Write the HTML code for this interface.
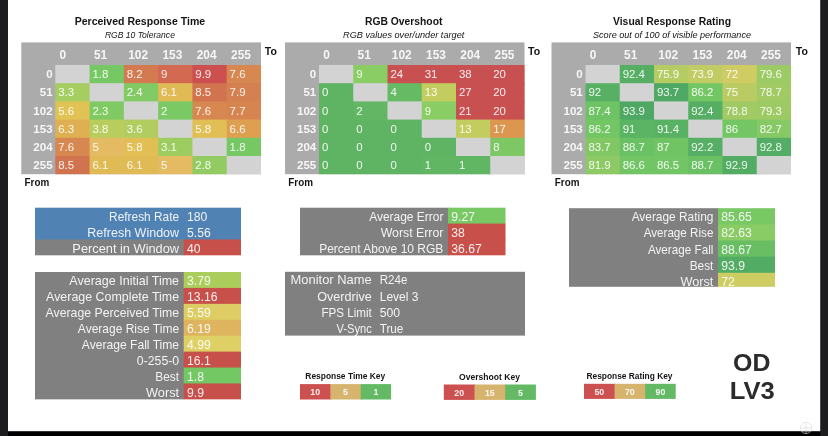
<!DOCTYPE html>
<html><head><meta charset="utf-8"><title>Response Time Results</title>
<style>html,body{margin:0;padding:0;background:#1d1d1f;}body{width:828px;height:436px;overflow:hidden;}svg{display:block;font-family:"Liberation Sans",sans-serif;}text{white-space:pre;}</style></head>
<body>
<svg width="828" height="436" viewBox="0 0 828 436">
<defs><filter id="soft" x="-2%" y="-4%" width="104%" height="108%" color-interpolation-filters="sRGB"><feGaussianBlur stdDeviation="0.45"/></filter></defs>
<g filter="url(#soft)">
<rect x="-10" y="-10" width="848" height="456" fill="#1d1d1f"/>
<rect x="8.00" y="431.00" width="812.20" height="15.00" fill="#000"/>
<rect x="8.00" y="-10.00" width="812.20" height="441.20" fill="#fff"/>
<rect x="21.30" y="42.40" width="239.70" height="131.80" fill="#ababab"/>
<rect x="55.30" y="65.00" width="35.28" height="19.20" fill="#d3d3d3"/>
<rect x="89.58" y="65.00" width="35.28" height="19.20" fill="#76c864"/>
<rect x="123.87" y="65.00" width="35.28" height="19.20" fill="#d47a50"/>
<rect x="158.15" y="65.00" width="35.28" height="19.20" fill="#d26950"/>
<rect x="192.43" y="65.00" width="35.28" height="19.20" fill="#cd5050"/>
<rect x="226.72" y="65.00" width="34.28" height="19.20" fill="#d78750"/>
<rect x="55.30" y="83.20" width="35.28" height="19.20" fill="#a5cd5f"/>
<rect x="89.58" y="83.20" width="35.28" height="19.20" fill="#d3d3d3"/>
<rect x="123.87" y="83.20" width="35.28" height="19.20" fill="#82ca64"/>
<rect x="158.15" y="83.20" width="35.28" height="19.20" fill="#e0ba54"/>
<rect x="192.43" y="83.20" width="35.28" height="19.20" fill="#d27350"/>
<rect x="226.72" y="83.20" width="34.28" height="19.20" fill="#d58050"/>
<rect x="55.30" y="101.40" width="35.28" height="19.20" fill="#e1c355"/>
<rect x="89.58" y="101.40" width="35.28" height="19.20" fill="#80ca64"/>
<rect x="123.87" y="101.40" width="35.28" height="19.20" fill="#d3d3d3"/>
<rect x="158.15" y="101.40" width="35.28" height="19.20" fill="#7ac964"/>
<rect x="192.43" y="101.40" width="35.28" height="19.20" fill="#d78750"/>
<rect x="226.72" y="101.40" width="34.28" height="19.20" fill="#d68550"/>
<rect x="55.30" y="119.60" width="35.28" height="19.20" fill="#dfb052"/>
<rect x="89.58" y="119.60" width="35.28" height="19.20" fill="#b9cd5f"/>
<rect x="123.87" y="119.60" width="35.28" height="19.20" fill="#b1cd5f"/>
<rect x="158.15" y="119.60" width="35.28" height="19.20" fill="#d3d3d3"/>
<rect x="192.43" y="119.60" width="35.28" height="19.20" fill="#e1bf55"/>
<rect x="226.72" y="119.60" width="34.28" height="19.20" fill="#dea050"/>
<rect x="55.30" y="137.80" width="35.28" height="19.20" fill="#d78750"/>
<rect x="89.58" y="137.80" width="35.28" height="19.20" fill="#e4ba62"/>
<rect x="123.87" y="137.80" width="35.28" height="19.20" fill="#e1bf55"/>
<rect x="158.15" y="137.80" width="35.28" height="19.20" fill="#9dcc60"/>
<rect x="192.43" y="137.80" width="35.28" height="19.20" fill="#d3d3d3"/>
<rect x="226.72" y="137.80" width="34.28" height="19.20" fill="#76c864"/>
<rect x="55.30" y="156.00" width="35.28" height="18.20" fill="#d27350"/>
<rect x="89.58" y="156.00" width="35.28" height="18.20" fill="#e0ba54"/>
<rect x="123.87" y="156.00" width="35.28" height="18.20" fill="#e0ba54"/>
<rect x="158.15" y="156.00" width="35.28" height="18.20" fill="#e4ba62"/>
<rect x="192.43" y="156.00" width="35.28" height="18.20" fill="#92cb62"/>
<rect x="226.72" y="156.00" width="34.28" height="18.20" fill="#d3d3d3"/>
<text x="59.60" y="58.90" font-size="11.9" fill="#fff" font-weight="bold" fill-opacity="0.9">0</text>
<text x="93.88" y="58.90" font-size="11.9" fill="#fff" font-weight="bold" fill-opacity="0.9">51</text>
<text x="128.17" y="58.90" font-size="11.9" fill="#fff" font-weight="bold" fill-opacity="0.9">102</text>
<text x="162.45" y="58.90" font-size="11.9" fill="#fff" font-weight="bold" fill-opacity="0.9">153</text>
<text x="196.73" y="58.90" font-size="11.9" fill="#fff" font-weight="bold" fill-opacity="0.9">204</text>
<text x="231.02" y="58.90" font-size="11.9" fill="#fff" font-weight="bold" fill-opacity="0.9">255</text>
<text x="52.60" y="78.10" font-size="11.0" fill="#fff" font-weight="bold" text-anchor="end" fill-opacity="0.9" textLength="6.42" lengthAdjust="spacingAndGlyphs">0</text>
<text x="92.48" y="78.10" font-size="11.0" fill="#fff" fill-opacity="0.9" textLength="15.90" lengthAdjust="spacingAndGlyphs">1.8</text>
<text x="126.77" y="78.10" font-size="11.0" fill="#fff" fill-opacity="0.9" textLength="15.90" lengthAdjust="spacingAndGlyphs">8.2</text>
<text x="161.05" y="78.10" font-size="11.0" fill="#fff" fill-opacity="0.9" textLength="6.36" lengthAdjust="spacingAndGlyphs">9</text>
<text x="195.33" y="78.10" font-size="11.0" fill="#fff" fill-opacity="0.9" textLength="15.90" lengthAdjust="spacingAndGlyphs">9.9</text>
<text x="229.62" y="78.10" font-size="11.0" fill="#fff" fill-opacity="0.9" textLength="15.90" lengthAdjust="spacingAndGlyphs">7.6</text>
<text x="52.60" y="96.30" font-size="11.0" fill="#fff" font-weight="bold" text-anchor="end" fill-opacity="0.9" textLength="12.85" lengthAdjust="spacingAndGlyphs">51</text>
<text x="58.20" y="96.30" font-size="11.0" fill="#fff" fill-opacity="0.9" textLength="15.90" lengthAdjust="spacingAndGlyphs">3.3</text>
<text x="126.77" y="96.30" font-size="11.0" fill="#fff" fill-opacity="0.9" textLength="15.90" lengthAdjust="spacingAndGlyphs">2.4</text>
<text x="161.05" y="96.30" font-size="11.0" fill="#fff" fill-opacity="0.9" textLength="15.90" lengthAdjust="spacingAndGlyphs">6.1</text>
<text x="195.33" y="96.30" font-size="11.0" fill="#fff" fill-opacity="0.9" textLength="15.90" lengthAdjust="spacingAndGlyphs">8.5</text>
<text x="229.62" y="96.30" font-size="11.0" fill="#fff" fill-opacity="0.9" textLength="15.90" lengthAdjust="spacingAndGlyphs">7.9</text>
<text x="52.60" y="114.50" font-size="11.0" fill="#fff" font-weight="bold" text-anchor="end" fill-opacity="0.9" textLength="19.27" lengthAdjust="spacingAndGlyphs">102</text>
<text x="58.20" y="114.50" font-size="11.0" fill="#fff" fill-opacity="0.9" textLength="15.90" lengthAdjust="spacingAndGlyphs">5.6</text>
<text x="92.48" y="114.50" font-size="11.0" fill="#fff" fill-opacity="0.9" textLength="15.90" lengthAdjust="spacingAndGlyphs">2.3</text>
<text x="161.05" y="114.50" font-size="11.0" fill="#fff" fill-opacity="0.9" textLength="6.36" lengthAdjust="spacingAndGlyphs">2</text>
<text x="195.33" y="114.50" font-size="11.0" fill="#fff" fill-opacity="0.9" textLength="15.90" lengthAdjust="spacingAndGlyphs">7.6</text>
<text x="229.62" y="114.50" font-size="11.0" fill="#fff" fill-opacity="0.9" textLength="15.90" lengthAdjust="spacingAndGlyphs">7.7</text>
<text x="52.60" y="132.70" font-size="11.0" fill="#fff" font-weight="bold" text-anchor="end" fill-opacity="0.9" textLength="19.27" lengthAdjust="spacingAndGlyphs">153</text>
<text x="58.20" y="132.70" font-size="11.0" fill="#fff" fill-opacity="0.9" textLength="15.90" lengthAdjust="spacingAndGlyphs">6.3</text>
<text x="92.48" y="132.70" font-size="11.0" fill="#fff" fill-opacity="0.9" textLength="15.90" lengthAdjust="spacingAndGlyphs">3.8</text>
<text x="126.77" y="132.70" font-size="11.0" fill="#fff" fill-opacity="0.9" textLength="15.90" lengthAdjust="spacingAndGlyphs">3.6</text>
<text x="195.33" y="132.70" font-size="11.0" fill="#fff" fill-opacity="0.9" textLength="15.90" lengthAdjust="spacingAndGlyphs">5.8</text>
<text x="229.62" y="132.70" font-size="11.0" fill="#fff" fill-opacity="0.9" textLength="15.90" lengthAdjust="spacingAndGlyphs">6.6</text>
<text x="52.60" y="150.90" font-size="11.0" fill="#fff" font-weight="bold" text-anchor="end" fill-opacity="0.9" textLength="19.27" lengthAdjust="spacingAndGlyphs">204</text>
<text x="58.20" y="150.90" font-size="11.0" fill="#fff" fill-opacity="0.9" textLength="15.90" lengthAdjust="spacingAndGlyphs">7.6</text>
<text x="92.48" y="150.90" font-size="11.0" fill="#fff" fill-opacity="0.9" textLength="6.36" lengthAdjust="spacingAndGlyphs">5</text>
<text x="126.77" y="150.90" font-size="11.0" fill="#fff" fill-opacity="0.9" textLength="15.90" lengthAdjust="spacingAndGlyphs">5.8</text>
<text x="161.05" y="150.90" font-size="11.0" fill="#fff" fill-opacity="0.9" textLength="15.90" lengthAdjust="spacingAndGlyphs">3.1</text>
<text x="229.62" y="150.90" font-size="11.0" fill="#fff" fill-opacity="0.9" textLength="15.90" lengthAdjust="spacingAndGlyphs">1.8</text>
<text x="52.60" y="169.10" font-size="11.0" fill="#fff" font-weight="bold" text-anchor="end" fill-opacity="0.9" textLength="19.27" lengthAdjust="spacingAndGlyphs">255</text>
<text x="58.20" y="169.10" font-size="11.0" fill="#fff" fill-opacity="0.9" textLength="15.90" lengthAdjust="spacingAndGlyphs">8.5</text>
<text x="92.48" y="169.10" font-size="11.0" fill="#fff" fill-opacity="0.9" textLength="15.90" lengthAdjust="spacingAndGlyphs">6.1</text>
<text x="126.77" y="169.10" font-size="11.0" fill="#fff" fill-opacity="0.9" textLength="15.90" lengthAdjust="spacingAndGlyphs">6.1</text>
<text x="161.05" y="169.10" font-size="11.0" fill="#fff" fill-opacity="0.9" textLength="6.36" lengthAdjust="spacingAndGlyphs">5</text>
<text x="195.33" y="169.10" font-size="11.0" fill="#fff" fill-opacity="0.9" textLength="15.90" lengthAdjust="spacingAndGlyphs">2.8</text>
<text x="139.90" y="25.00" font-size="11.8" fill="#141414" font-weight="bold" text-anchor="middle" textLength="130.50" lengthAdjust="spacingAndGlyphs">Perceived Response Time</text>
<text x="139.90" y="37.50" font-size="9" fill="#141414" font-style="italic" text-anchor="middle" textLength="70.00" lengthAdjust="spacingAndGlyphs">RGB 10 Tolerance</text>
<text x="264.80" y="54.50" font-size="10.5" fill="#141414" font-weight="bold">To</text>
<text x="24.60" y="185.60" font-size="10.5" fill="#141414" font-weight="bold" textLength="24.67" lengthAdjust="spacingAndGlyphs">From</text>
<rect x="285.00" y="42.40" width="239.50" height="131.80" fill="#ababab"/>
<rect x="319.00" y="65.00" width="35.25" height="19.20" fill="#d3d3d3"/>
<rect x="353.25" y="65.00" width="35.25" height="19.20" fill="#8acd64"/>
<rect x="387.50" y="65.00" width="35.25" height="19.20" fill="#c85050"/>
<rect x="421.75" y="65.00" width="35.25" height="19.20" fill="#c85050"/>
<rect x="456.00" y="65.00" width="35.25" height="19.20" fill="#c85050"/>
<rect x="490.25" y="65.00" width="34.25" height="19.20" fill="#c85050"/>
<rect x="319.00" y="83.20" width="35.25" height="19.20" fill="#5fb464"/>
<rect x="353.25" y="83.20" width="35.25" height="19.20" fill="#d3d3d3"/>
<rect x="387.50" y="83.20" width="35.25" height="19.20" fill="#67ba64"/>
<rect x="421.75" y="83.20" width="35.25" height="19.20" fill="#c3cd5f"/>
<rect x="456.00" y="83.20" width="35.25" height="19.20" fill="#c85050"/>
<rect x="490.25" y="83.20" width="34.25" height="19.20" fill="#c85050"/>
<rect x="319.00" y="101.40" width="35.25" height="19.20" fill="#5fb464"/>
<rect x="353.25" y="101.40" width="35.25" height="19.20" fill="#63b764"/>
<rect x="387.50" y="101.40" width="35.25" height="19.20" fill="#d3d3d3"/>
<rect x="421.75" y="101.40" width="35.25" height="19.20" fill="#8acd64"/>
<rect x="456.00" y="101.40" width="35.25" height="19.20" fill="#c85050"/>
<rect x="490.25" y="101.40" width="34.25" height="19.20" fill="#c85050"/>
<rect x="319.00" y="119.60" width="35.25" height="19.20" fill="#5fb464"/>
<rect x="353.25" y="119.60" width="35.25" height="19.20" fill="#5fb464"/>
<rect x="387.50" y="119.60" width="35.25" height="19.20" fill="#5fb464"/>
<rect x="421.75" y="119.60" width="35.25" height="19.20" fill="#d3d3d3"/>
<rect x="456.00" y="119.60" width="35.25" height="19.20" fill="#c3cd5f"/>
<rect x="490.25" y="119.60" width="34.25" height="19.20" fill="#dc9650"/>
<rect x="319.00" y="137.80" width="35.25" height="19.20" fill="#5fb464"/>
<rect x="353.25" y="137.80" width="35.25" height="19.20" fill="#5fb464"/>
<rect x="387.50" y="137.80" width="35.25" height="19.20" fill="#5fb464"/>
<rect x="421.75" y="137.80" width="35.25" height="19.20" fill="#5fb464"/>
<rect x="456.00" y="137.80" width="35.25" height="19.20" fill="#d3d3d3"/>
<rect x="490.25" y="137.80" width="34.25" height="19.20" fill="#7dc864"/>
<rect x="319.00" y="156.00" width="35.25" height="18.20" fill="#5fb464"/>
<rect x="353.25" y="156.00" width="35.25" height="18.20" fill="#5fb464"/>
<rect x="387.50" y="156.00" width="35.25" height="18.20" fill="#5fb464"/>
<rect x="421.75" y="156.00" width="35.25" height="18.20" fill="#61b664"/>
<rect x="456.00" y="156.00" width="35.25" height="18.20" fill="#61b664"/>
<rect x="490.25" y="156.00" width="34.25" height="18.20" fill="#d3d3d3"/>
<text x="323.30" y="58.90" font-size="11.9" fill="#fff" font-weight="bold" fill-opacity="0.9">0</text>
<text x="357.55" y="58.90" font-size="11.9" fill="#fff" font-weight="bold" fill-opacity="0.9">51</text>
<text x="391.80" y="58.90" font-size="11.9" fill="#fff" font-weight="bold" fill-opacity="0.9">102</text>
<text x="426.05" y="58.90" font-size="11.9" fill="#fff" font-weight="bold" fill-opacity="0.9">153</text>
<text x="460.30" y="58.90" font-size="11.9" fill="#fff" font-weight="bold" fill-opacity="0.9">204</text>
<text x="494.55" y="58.90" font-size="11.9" fill="#fff" font-weight="bold" fill-opacity="0.9">255</text>
<text x="316.30" y="78.10" font-size="11.0" fill="#fff" font-weight="bold" text-anchor="end" fill-opacity="0.9" textLength="6.42" lengthAdjust="spacingAndGlyphs">0</text>
<text x="356.15" y="78.10" font-size="11.0" fill="#fff" fill-opacity="0.9" textLength="6.36" lengthAdjust="spacingAndGlyphs">9</text>
<text x="390.40" y="78.10" font-size="11.0" fill="#fff" fill-opacity="0.9" textLength="12.72" lengthAdjust="spacingAndGlyphs">24</text>
<text x="424.65" y="78.10" font-size="11.0" fill="#fff" fill-opacity="0.9" textLength="12.72" lengthAdjust="spacingAndGlyphs">31</text>
<text x="458.90" y="78.10" font-size="11.0" fill="#fff" fill-opacity="0.9" textLength="12.72" lengthAdjust="spacingAndGlyphs">38</text>
<text x="493.15" y="78.10" font-size="11.0" fill="#fff" fill-opacity="0.9" textLength="12.72" lengthAdjust="spacingAndGlyphs">20</text>
<text x="316.30" y="96.30" font-size="11.0" fill="#fff" font-weight="bold" text-anchor="end" fill-opacity="0.9" textLength="12.85" lengthAdjust="spacingAndGlyphs">51</text>
<text x="321.90" y="96.30" font-size="11.0" fill="#fff" fill-opacity="0.9" textLength="6.36" lengthAdjust="spacingAndGlyphs">0</text>
<text x="390.40" y="96.30" font-size="11.0" fill="#fff" fill-opacity="0.9" textLength="6.36" lengthAdjust="spacingAndGlyphs">4</text>
<text x="424.65" y="96.30" font-size="11.0" fill="#fff" fill-opacity="0.9" textLength="12.72" lengthAdjust="spacingAndGlyphs">13</text>
<text x="458.90" y="96.30" font-size="11.0" fill="#fff" fill-opacity="0.9" textLength="12.72" lengthAdjust="spacingAndGlyphs">27</text>
<text x="493.15" y="96.30" font-size="11.0" fill="#fff" fill-opacity="0.9" textLength="12.72" lengthAdjust="spacingAndGlyphs">20</text>
<text x="316.30" y="114.50" font-size="11.0" fill="#fff" font-weight="bold" text-anchor="end" fill-opacity="0.9" textLength="19.27" lengthAdjust="spacingAndGlyphs">102</text>
<text x="321.90" y="114.50" font-size="11.0" fill="#fff" fill-opacity="0.9" textLength="6.36" lengthAdjust="spacingAndGlyphs">0</text>
<text x="356.15" y="114.50" font-size="11.0" fill="#fff" fill-opacity="0.9" textLength="6.36" lengthAdjust="spacingAndGlyphs">2</text>
<text x="424.65" y="114.50" font-size="11.0" fill="#fff" fill-opacity="0.9" textLength="6.36" lengthAdjust="spacingAndGlyphs">9</text>
<text x="458.90" y="114.50" font-size="11.0" fill="#fff" fill-opacity="0.9" textLength="12.72" lengthAdjust="spacingAndGlyphs">21</text>
<text x="493.15" y="114.50" font-size="11.0" fill="#fff" fill-opacity="0.9" textLength="12.72" lengthAdjust="spacingAndGlyphs">20</text>
<text x="316.30" y="132.70" font-size="11.0" fill="#fff" font-weight="bold" text-anchor="end" fill-opacity="0.9" textLength="19.27" lengthAdjust="spacingAndGlyphs">153</text>
<text x="321.90" y="132.70" font-size="11.0" fill="#fff" fill-opacity="0.9" textLength="6.36" lengthAdjust="spacingAndGlyphs">0</text>
<text x="356.15" y="132.70" font-size="11.0" fill="#fff" fill-opacity="0.9" textLength="6.36" lengthAdjust="spacingAndGlyphs">0</text>
<text x="390.40" y="132.70" font-size="11.0" fill="#fff" fill-opacity="0.9" textLength="6.36" lengthAdjust="spacingAndGlyphs">0</text>
<text x="458.90" y="132.70" font-size="11.0" fill="#fff" fill-opacity="0.9" textLength="12.72" lengthAdjust="spacingAndGlyphs">13</text>
<text x="493.15" y="132.70" font-size="11.0" fill="#fff" fill-opacity="0.9" textLength="12.72" lengthAdjust="spacingAndGlyphs">17</text>
<text x="316.30" y="150.90" font-size="11.0" fill="#fff" font-weight="bold" text-anchor="end" fill-opacity="0.9" textLength="19.27" lengthAdjust="spacingAndGlyphs">204</text>
<text x="321.90" y="150.90" font-size="11.0" fill="#fff" fill-opacity="0.9" textLength="6.36" lengthAdjust="spacingAndGlyphs">0</text>
<text x="356.15" y="150.90" font-size="11.0" fill="#fff" fill-opacity="0.9" textLength="6.36" lengthAdjust="spacingAndGlyphs">0</text>
<text x="390.40" y="150.90" font-size="11.0" fill="#fff" fill-opacity="0.9" textLength="6.36" lengthAdjust="spacingAndGlyphs">0</text>
<text x="424.65" y="150.90" font-size="11.0" fill="#fff" fill-opacity="0.9" textLength="6.36" lengthAdjust="spacingAndGlyphs">0</text>
<text x="493.15" y="150.90" font-size="11.0" fill="#fff" fill-opacity="0.9" textLength="6.36" lengthAdjust="spacingAndGlyphs">8</text>
<text x="316.30" y="169.10" font-size="11.0" fill="#fff" font-weight="bold" text-anchor="end" fill-opacity="0.9" textLength="19.27" lengthAdjust="spacingAndGlyphs">255</text>
<text x="321.90" y="169.10" font-size="11.0" fill="#fff" fill-opacity="0.9" textLength="6.36" lengthAdjust="spacingAndGlyphs">0</text>
<text x="356.15" y="169.10" font-size="11.0" fill="#fff" fill-opacity="0.9" textLength="6.36" lengthAdjust="spacingAndGlyphs">0</text>
<text x="390.40" y="169.10" font-size="11.0" fill="#fff" fill-opacity="0.9" textLength="6.36" lengthAdjust="spacingAndGlyphs">0</text>
<text x="424.65" y="169.10" font-size="11.0" fill="#fff" fill-opacity="0.9" textLength="6.36" lengthAdjust="spacingAndGlyphs">1</text>
<text x="458.90" y="169.10" font-size="11.0" fill="#fff" fill-opacity="0.9" textLength="6.36" lengthAdjust="spacingAndGlyphs">1</text>
<text x="403.70" y="25.00" font-size="11.8" fill="#141414" font-weight="bold" text-anchor="middle" textLength="77.50" lengthAdjust="spacingAndGlyphs">RGB Overshoot</text>
<text x="403.70" y="37.50" font-size="9" fill="#141414" font-style="italic" text-anchor="middle" textLength="121.25" lengthAdjust="spacingAndGlyphs">RGB values over/under target</text>
<text x="528.10" y="54.50" font-size="10.5" fill="#141414" font-weight="bold">To</text>
<text x="288.30" y="185.60" font-size="10.5" fill="#141414" font-weight="bold" textLength="24.67" lengthAdjust="spacingAndGlyphs">From</text>
<rect x="551.50" y="42.40" width="239.50" height="131.80" fill="#ababab"/>
<rect x="585.50" y="65.00" width="35.25" height="19.20" fill="#d3d3d3"/>
<rect x="619.75" y="65.00" width="35.25" height="19.20" fill="#55ae64"/>
<rect x="654.00" y="65.00" width="35.25" height="19.20" fill="#b5cb64"/>
<rect x="688.25" y="65.00" width="35.25" height="19.20" fill="#c2cc64"/>
<rect x="722.50" y="65.00" width="35.25" height="19.20" fill="#cfcc64"/>
<rect x="756.75" y="65.00" width="34.25" height="19.20" fill="#9cca64"/>
<rect x="585.50" y="83.20" width="35.25" height="19.20" fill="#57b064"/>
<rect x="619.75" y="83.20" width="35.25" height="19.20" fill="#d3d3d3"/>
<rect x="654.00" y="83.20" width="35.25" height="19.20" fill="#4fa964"/>
<rect x="688.25" y="83.20" width="35.25" height="19.20" fill="#73c664"/>
<rect x="722.50" y="83.20" width="35.25" height="19.20" fill="#bbcb64"/>
<rect x="756.75" y="83.20" width="34.25" height="19.20" fill="#a2ca64"/>
<rect x="585.50" y="101.40" width="35.25" height="19.20" fill="#6ec364"/>
<rect x="619.75" y="101.40" width="35.25" height="19.20" fill="#4ea864"/>
<rect x="654.00" y="101.40" width="35.25" height="19.20" fill="#d3d3d3"/>
<rect x="688.25" y="101.40" width="35.25" height="19.20" fill="#55ae64"/>
<rect x="722.50" y="101.40" width="35.25" height="19.20" fill="#a1ca64"/>
<rect x="756.75" y="101.40" width="34.25" height="19.20" fill="#9eca64"/>
<rect x="585.50" y="119.60" width="35.25" height="19.20" fill="#73c664"/>
<rect x="619.75" y="119.60" width="35.25" height="19.20" fill="#5bb464"/>
<rect x="654.00" y="119.60" width="35.25" height="19.20" fill="#59b264"/>
<rect x="688.25" y="119.60" width="35.25" height="19.20" fill="#d3d3d3"/>
<rect x="722.50" y="119.60" width="35.25" height="19.20" fill="#74c664"/>
<rect x="756.75" y="119.60" width="34.25" height="19.20" fill="#87c964"/>
<rect x="585.50" y="137.80" width="35.25" height="19.20" fill="#81c864"/>
<rect x="619.75" y="137.80" width="35.25" height="19.20" fill="#69c164"/>
<rect x="654.00" y="137.80" width="35.25" height="19.20" fill="#70c464"/>
<rect x="688.25" y="137.80" width="35.25" height="19.20" fill="#56af64"/>
<rect x="722.50" y="137.80" width="35.25" height="19.20" fill="#d3d3d3"/>
<rect x="756.75" y="137.80" width="34.25" height="19.20" fill="#53ad64"/>
<rect x="585.50" y="156.00" width="35.25" height="18.20" fill="#8dc964"/>
<rect x="619.75" y="156.00" width="35.25" height="18.20" fill="#72c564"/>
<rect x="654.00" y="156.00" width="35.25" height="18.20" fill="#72c564"/>
<rect x="688.25" y="156.00" width="35.25" height="18.20" fill="#69c164"/>
<rect x="722.50" y="156.00" width="35.25" height="18.20" fill="#53ac64"/>
<rect x="756.75" y="156.00" width="34.25" height="18.20" fill="#d3d3d3"/>
<text x="589.80" y="58.90" font-size="11.9" fill="#fff" font-weight="bold" fill-opacity="0.9">0</text>
<text x="624.05" y="58.90" font-size="11.9" fill="#fff" font-weight="bold" fill-opacity="0.9">51</text>
<text x="658.30" y="58.90" font-size="11.9" fill="#fff" font-weight="bold" fill-opacity="0.9">102</text>
<text x="692.55" y="58.90" font-size="11.9" fill="#fff" font-weight="bold" fill-opacity="0.9">153</text>
<text x="726.80" y="58.90" font-size="11.9" fill="#fff" font-weight="bold" fill-opacity="0.9">204</text>
<text x="761.05" y="58.90" font-size="11.9" fill="#fff" font-weight="bold" fill-opacity="0.9">255</text>
<text x="582.80" y="78.10" font-size="11.0" fill="#fff" font-weight="bold" text-anchor="end" fill-opacity="0.9" textLength="6.42" lengthAdjust="spacingAndGlyphs">0</text>
<text x="622.65" y="78.10" font-size="11.0" fill="#fff" fill-opacity="0.9" textLength="22.27" lengthAdjust="spacingAndGlyphs">92.4</text>
<text x="656.90" y="78.10" font-size="11.0" fill="#fff" fill-opacity="0.9" textLength="22.27" lengthAdjust="spacingAndGlyphs">75.9</text>
<text x="691.15" y="78.10" font-size="11.0" fill="#fff" fill-opacity="0.9" textLength="22.27" lengthAdjust="spacingAndGlyphs">73.9</text>
<text x="725.40" y="78.10" font-size="11.0" fill="#fff" fill-opacity="0.9" textLength="12.72" lengthAdjust="spacingAndGlyphs">72</text>
<text x="759.65" y="78.10" font-size="11.0" fill="#fff" fill-opacity="0.9" textLength="22.27" lengthAdjust="spacingAndGlyphs">79.6</text>
<text x="582.80" y="96.30" font-size="11.0" fill="#fff" font-weight="bold" text-anchor="end" fill-opacity="0.9" textLength="12.85" lengthAdjust="spacingAndGlyphs">51</text>
<text x="588.40" y="96.30" font-size="11.0" fill="#fff" fill-opacity="0.9" textLength="12.72" lengthAdjust="spacingAndGlyphs">92</text>
<text x="656.90" y="96.30" font-size="11.0" fill="#fff" fill-opacity="0.9" textLength="22.27" lengthAdjust="spacingAndGlyphs">93.7</text>
<text x="691.15" y="96.30" font-size="11.0" fill="#fff" fill-opacity="0.9" textLength="22.27" lengthAdjust="spacingAndGlyphs">86.2</text>
<text x="725.40" y="96.30" font-size="11.0" fill="#fff" fill-opacity="0.9" textLength="12.72" lengthAdjust="spacingAndGlyphs">75</text>
<text x="759.65" y="96.30" font-size="11.0" fill="#fff" fill-opacity="0.9" textLength="22.27" lengthAdjust="spacingAndGlyphs">78.7</text>
<text x="582.80" y="114.50" font-size="11.0" fill="#fff" font-weight="bold" text-anchor="end" fill-opacity="0.9" textLength="19.27" lengthAdjust="spacingAndGlyphs">102</text>
<text x="588.40" y="114.50" font-size="11.0" fill="#fff" fill-opacity="0.9" textLength="22.27" lengthAdjust="spacingAndGlyphs">87.4</text>
<text x="622.65" y="114.50" font-size="11.0" fill="#fff" fill-opacity="0.9" textLength="22.27" lengthAdjust="spacingAndGlyphs">93.9</text>
<text x="691.15" y="114.50" font-size="11.0" fill="#fff" fill-opacity="0.9" textLength="22.27" lengthAdjust="spacingAndGlyphs">92.4</text>
<text x="725.40" y="114.50" font-size="11.0" fill="#fff" fill-opacity="0.9" textLength="22.27" lengthAdjust="spacingAndGlyphs">78.8</text>
<text x="759.65" y="114.50" font-size="11.0" fill="#fff" fill-opacity="0.9" textLength="22.27" lengthAdjust="spacingAndGlyphs">79.3</text>
<text x="582.80" y="132.70" font-size="11.0" fill="#fff" font-weight="bold" text-anchor="end" fill-opacity="0.9" textLength="19.27" lengthAdjust="spacingAndGlyphs">153</text>
<text x="588.40" y="132.70" font-size="11.0" fill="#fff" fill-opacity="0.9" textLength="22.27" lengthAdjust="spacingAndGlyphs">86.2</text>
<text x="622.65" y="132.70" font-size="11.0" fill="#fff" fill-opacity="0.9" textLength="12.72" lengthAdjust="spacingAndGlyphs">91</text>
<text x="656.90" y="132.70" font-size="11.0" fill="#fff" fill-opacity="0.9" textLength="22.27" lengthAdjust="spacingAndGlyphs">91.4</text>
<text x="725.40" y="132.70" font-size="11.0" fill="#fff" fill-opacity="0.9" textLength="12.72" lengthAdjust="spacingAndGlyphs">86</text>
<text x="759.65" y="132.70" font-size="11.0" fill="#fff" fill-opacity="0.9" textLength="22.27" lengthAdjust="spacingAndGlyphs">82.7</text>
<text x="582.80" y="150.90" font-size="11.0" fill="#fff" font-weight="bold" text-anchor="end" fill-opacity="0.9" textLength="19.27" lengthAdjust="spacingAndGlyphs">204</text>
<text x="588.40" y="150.90" font-size="11.0" fill="#fff" fill-opacity="0.9" textLength="22.27" lengthAdjust="spacingAndGlyphs">83.7</text>
<text x="622.65" y="150.90" font-size="11.0" fill="#fff" fill-opacity="0.9" textLength="22.27" lengthAdjust="spacingAndGlyphs">88.7</text>
<text x="656.90" y="150.90" font-size="11.0" fill="#fff" fill-opacity="0.9" textLength="12.72" lengthAdjust="spacingAndGlyphs">87</text>
<text x="691.15" y="150.90" font-size="11.0" fill="#fff" fill-opacity="0.9" textLength="22.27" lengthAdjust="spacingAndGlyphs">92.2</text>
<text x="759.65" y="150.90" font-size="11.0" fill="#fff" fill-opacity="0.9" textLength="22.27" lengthAdjust="spacingAndGlyphs">92.8</text>
<text x="582.80" y="169.10" font-size="11.0" fill="#fff" font-weight="bold" text-anchor="end" fill-opacity="0.9" textLength="19.27" lengthAdjust="spacingAndGlyphs">255</text>
<text x="588.40" y="169.10" font-size="11.0" fill="#fff" fill-opacity="0.9" textLength="22.27" lengthAdjust="spacingAndGlyphs">81.9</text>
<text x="622.65" y="169.10" font-size="11.0" fill="#fff" fill-opacity="0.9" textLength="22.27" lengthAdjust="spacingAndGlyphs">86.6</text>
<text x="656.90" y="169.10" font-size="11.0" fill="#fff" fill-opacity="0.9" textLength="22.27" lengthAdjust="spacingAndGlyphs">86.5</text>
<text x="691.15" y="169.10" font-size="11.0" fill="#fff" fill-opacity="0.9" textLength="22.27" lengthAdjust="spacingAndGlyphs">88.7</text>
<text x="725.40" y="169.10" font-size="11.0" fill="#fff" fill-opacity="0.9" textLength="22.27" lengthAdjust="spacingAndGlyphs">92.9</text>
<text x="672.00" y="25.00" font-size="11.8" fill="#141414" font-weight="bold" text-anchor="middle" textLength="118.00" lengthAdjust="spacingAndGlyphs">Visual Response Rating</text>
<text x="672.00" y="37.50" font-size="9" fill="#141414" font-style="italic" text-anchor="middle" textLength="158.00" lengthAdjust="spacingAndGlyphs">Score out of 100 of visible performance</text>
<text x="795.80" y="54.50" font-size="10.5" fill="#141414" font-weight="bold">To</text>
<text x="554.80" y="185.60" font-size="10.5" fill="#141414" font-weight="bold" textLength="24.67" lengthAdjust="spacingAndGlyphs">From</text>
<rect x="35.00" y="207.70" width="206.00" height="16.87" fill="#5082b4"/>
<rect x="35.00" y="223.57" width="206.00" height="16.87" fill="#5082b4"/>
<rect x="35.00" y="239.44" width="149.30" height="15.87" fill="#808080"/>
<rect x="183.70" y="239.44" width="57.30" height="15.87" fill="#c8504b"/>
<text x="179.10" y="220.80" font-size="11.9" fill="#fff" text-anchor="end" fill-opacity="0.9" textLength="70.00" lengthAdjust="spacingAndGlyphs">Refresh Rate</text>
<text x="187.00" y="220.80" font-size="11.9" fill="#fff" fill-opacity="0.9" textLength="20.36" lengthAdjust="spacingAndGlyphs">180</text>
<text x="179.10" y="236.67" font-size="11.9" fill="#fff" text-anchor="end" fill-opacity="0.9" textLength="91.75" lengthAdjust="spacingAndGlyphs">Refresh Window</text>
<text x="187.00" y="236.67" font-size="11.9" fill="#fff" fill-opacity="0.9" textLength="23.74" lengthAdjust="spacingAndGlyphs">5.56</text>
<text x="179.10" y="252.54" font-size="11.9" fill="#fff" text-anchor="end" fill-opacity="0.9" textLength="106.75" lengthAdjust="spacingAndGlyphs">Percent in Window</text>
<text x="187.00" y="252.54" font-size="11.9" fill="#fff" fill-opacity="0.9" textLength="13.58" lengthAdjust="spacingAndGlyphs">40</text>
<rect x="35.00" y="272.00" width="149.30" height="16.92" fill="#808080"/>
<rect x="35.00" y="287.92" width="149.30" height="16.92" fill="#808080"/>
<rect x="35.00" y="303.84" width="149.30" height="16.92" fill="#808080"/>
<rect x="35.00" y="319.76" width="149.30" height="16.92" fill="#808080"/>
<rect x="35.00" y="335.68" width="149.30" height="16.92" fill="#808080"/>
<rect x="35.00" y="351.60" width="149.30" height="16.92" fill="#808080"/>
<rect x="35.00" y="367.52" width="149.30" height="16.92" fill="#808080"/>
<rect x="35.00" y="383.44" width="149.30" height="15.92" fill="#808080"/>
<rect x="183.70" y="272.00" width="57.30" height="16.92" fill="#aacd5c"/>
<rect x="183.70" y="287.92" width="57.30" height="16.92" fill="#c8504b"/>
<rect x="183.70" y="303.84" width="57.30" height="16.92" fill="#decd64"/>
<rect x="183.70" y="319.76" width="57.30" height="16.92" fill="#deb45f"/>
<rect x="183.70" y="335.68" width="57.30" height="16.92" fill="#ded064"/>
<rect x="183.70" y="351.60" width="57.30" height="16.92" fill="#c8504b"/>
<rect x="183.70" y="367.52" width="57.30" height="16.92" fill="#73c864"/>
<rect x="183.70" y="383.44" width="57.30" height="15.92" fill="#c8504b"/>
<text x="179.10" y="285.10" font-size="11.9" fill="#fff" text-anchor="end" fill-opacity="0.9" textLength="109.75" lengthAdjust="spacingAndGlyphs">Average Initial Time</text>
<text x="187.00" y="285.10" font-size="11.9" fill="#fff" fill-opacity="0.9" textLength="23.74" lengthAdjust="spacingAndGlyphs">3.79</text>
<text x="179.10" y="301.02" font-size="11.9" fill="#fff" text-anchor="end" fill-opacity="0.9" textLength="133.00" lengthAdjust="spacingAndGlyphs">Average Complete Time</text>
<text x="187.00" y="301.02" font-size="11.9" fill="#fff" fill-opacity="0.9" textLength="30.53" lengthAdjust="spacingAndGlyphs">13.16</text>
<text x="179.10" y="316.94" font-size="11.9" fill="#fff" text-anchor="end" fill-opacity="0.9" textLength="133.50" lengthAdjust="spacingAndGlyphs">Average Perceived Time</text>
<text x="187.00" y="316.94" font-size="11.9" fill="#fff" fill-opacity="0.9" textLength="23.74" lengthAdjust="spacingAndGlyphs">5.59</text>
<text x="179.10" y="332.86" font-size="11.9" fill="#fff" text-anchor="end" fill-opacity="0.9" textLength="101.25" lengthAdjust="spacingAndGlyphs">Average Rise Time</text>
<text x="187.00" y="332.86" font-size="11.9" fill="#fff" fill-opacity="0.9" textLength="23.74" lengthAdjust="spacingAndGlyphs">6.19</text>
<text x="179.10" y="348.78" font-size="11.9" fill="#fff" text-anchor="end" fill-opacity="0.9" textLength="97.25" lengthAdjust="spacingAndGlyphs">Average Fall Time</text>
<text x="187.00" y="348.78" font-size="11.9" fill="#fff" fill-opacity="0.9" textLength="23.74" lengthAdjust="spacingAndGlyphs">4.99</text>
<text x="179.10" y="364.70" font-size="11.9" fill="#fff" text-anchor="end" fill-opacity="0.9" textLength="42.25" lengthAdjust="spacingAndGlyphs">0-255-0</text>
<text x="187.00" y="364.70" font-size="11.9" fill="#fff" fill-opacity="0.9" textLength="23.74" lengthAdjust="spacingAndGlyphs">16.1</text>
<text x="179.10" y="380.62" font-size="11.9" fill="#fff" text-anchor="end" fill-opacity="0.9" textLength="23.75" lengthAdjust="spacingAndGlyphs">Best</text>
<text x="187.00" y="380.62" font-size="11.9" fill="#fff" fill-opacity="0.9" textLength="16.95" lengthAdjust="spacingAndGlyphs">1.8</text>
<text x="179.10" y="396.54" font-size="11.9" fill="#fff" text-anchor="end" fill-opacity="0.9" textLength="33.00" lengthAdjust="spacingAndGlyphs">Worst</text>
<text x="187.00" y="396.54" font-size="11.9" fill="#fff" fill-opacity="0.9" textLength="16.95" lengthAdjust="spacingAndGlyphs">9.9</text>
<rect x="300.00" y="207.70" width="148.60" height="16.87" fill="#808080"/>
<rect x="300.00" y="223.57" width="148.60" height="16.87" fill="#808080"/>
<rect x="300.00" y="239.44" width="148.60" height="15.87" fill="#808080"/>
<rect x="448.00" y="207.70" width="57.50" height="16.87" fill="#78c864"/>
<rect x="448.00" y="223.57" width="57.50" height="16.87" fill="#c8504b"/>
<rect x="448.00" y="239.44" width="57.50" height="15.87" fill="#c8504b"/>
<text x="443.40" y="220.80" font-size="11.9" fill="#fff" text-anchor="end" fill-opacity="0.9" textLength="74.25" lengthAdjust="spacingAndGlyphs">Average Error</text>
<text x="451.30" y="220.80" font-size="11.9" fill="#fff" fill-opacity="0.9" textLength="23.74" lengthAdjust="spacingAndGlyphs">9.27</text>
<text x="443.40" y="236.67" font-size="11.9" fill="#fff" text-anchor="end" fill-opacity="0.9" textLength="62.75" lengthAdjust="spacingAndGlyphs">Worst Error</text>
<text x="451.30" y="236.67" font-size="11.9" fill="#fff" fill-opacity="0.9" textLength="13.58" lengthAdjust="spacingAndGlyphs">38</text>
<text x="443.40" y="252.54" font-size="11.9" fill="#fff" text-anchor="end" fill-opacity="0.9" textLength="124.25" lengthAdjust="spacingAndGlyphs">Percent Above 10 RGB</text>
<text x="451.30" y="252.54" font-size="11.9" fill="#fff" fill-opacity="0.9" textLength="30.53" lengthAdjust="spacingAndGlyphs">36.67</text>
<rect x="285.00" y="271.80" width="240.00" height="17.20" fill="#808080"/>
<rect x="285.00" y="288.00" width="240.00" height="17.20" fill="#808080"/>
<rect x="285.00" y="304.20" width="240.00" height="17.20" fill="#808080"/>
<rect x="285.00" y="320.40" width="240.00" height="15.20" fill="#808080"/>
<text x="371.80" y="284.40" font-size="11.9" fill="#fff" text-anchor="end" fill-opacity="0.9" textLength="81.30" lengthAdjust="spacingAndGlyphs">Monitor Name</text>
<text x="379.70" y="284.40" font-size="11.9" fill="#fff" fill-opacity="0.9" textLength="27.70" lengthAdjust="spacingAndGlyphs">R24e</text>
<text x="371.80" y="300.60" font-size="11.9" fill="#fff" text-anchor="end" fill-opacity="0.9" textLength="54.60" lengthAdjust="spacingAndGlyphs">Overdrive</text>
<text x="379.70" y="300.60" font-size="11.9" fill="#fff" fill-opacity="0.9" textLength="38.80" lengthAdjust="spacingAndGlyphs">Level 3</text>
<text x="371.80" y="316.80" font-size="11.9" fill="#fff" text-anchor="end" fill-opacity="0.9" textLength="50.40" lengthAdjust="spacingAndGlyphs">FPS Limit</text>
<text x="379.70" y="316.80" font-size="11.9" fill="#fff" fill-opacity="0.9" textLength="20.40" lengthAdjust="spacingAndGlyphs">500</text>
<text x="371.80" y="333.00" font-size="11.9" fill="#fff" text-anchor="end" fill-opacity="0.9" textLength="35.30" lengthAdjust="spacingAndGlyphs">V-Sync</text>
<text x="379.70" y="333.00" font-size="11.9" fill="#fff" fill-opacity="0.9" textLength="23.70" lengthAdjust="spacingAndGlyphs">True</text>
<rect x="569.00" y="208.20" width="149.60" height="17.15" fill="#808080"/>
<rect x="569.00" y="224.35" width="149.60" height="17.15" fill="#808080"/>
<rect x="569.00" y="240.50" width="149.60" height="17.15" fill="#808080"/>
<rect x="569.00" y="256.65" width="149.60" height="17.15" fill="#808080"/>
<rect x="569.00" y="272.80" width="149.60" height="14.00" fill="#808080"/>
<rect x="718.00" y="208.20" width="57.00" height="17.15" fill="#78c864"/>
<rect x="718.00" y="224.35" width="57.00" height="17.15" fill="#89cb64"/>
<rect x="718.00" y="240.50" width="57.00" height="17.15" fill="#69be64"/>
<rect x="718.00" y="256.65" width="57.00" height="17.15" fill="#52ac64"/>
<rect x="718.00" y="272.80" width="57.00" height="14.00" fill="#cdcd64"/>
<text x="713.40" y="221.20" font-size="11.9" fill="#fff" text-anchor="end" fill-opacity="0.9" textLength="81.75" lengthAdjust="spacingAndGlyphs">Average Rating</text>
<text x="721.30" y="221.20" font-size="11.9" fill="#fff" fill-opacity="0.9" textLength="30.53" lengthAdjust="spacingAndGlyphs">85.65</text>
<text x="713.40" y="237.35" font-size="11.9" fill="#fff" text-anchor="end" fill-opacity="0.9" textLength="69.75" lengthAdjust="spacingAndGlyphs">Average Rise</text>
<text x="721.30" y="237.35" font-size="11.9" fill="#fff" fill-opacity="0.9" textLength="30.53" lengthAdjust="spacingAndGlyphs">82.63</text>
<text x="713.40" y="253.50" font-size="11.9" fill="#fff" text-anchor="end" fill-opacity="0.9" textLength="65.50" lengthAdjust="spacingAndGlyphs">Average Fall</text>
<text x="721.30" y="253.50" font-size="11.9" fill="#fff" fill-opacity="0.9" textLength="30.53" lengthAdjust="spacingAndGlyphs">88.67</text>
<text x="713.40" y="269.65" font-size="11.9" fill="#fff" text-anchor="end" fill-opacity="0.9" textLength="23.75" lengthAdjust="spacingAndGlyphs">Best</text>
<text x="721.30" y="269.65" font-size="11.9" fill="#fff" fill-opacity="0.9" textLength="23.74" lengthAdjust="spacingAndGlyphs">93.9</text>
<text x="713.40" y="285.80" font-size="11.9" fill="#fff" text-anchor="end" fill-opacity="0.9" textLength="33.00" lengthAdjust="spacingAndGlyphs">Worst</text>
<text x="721.30" y="285.80" font-size="11.9" fill="#fff" fill-opacity="0.9" textLength="13.58" lengthAdjust="spacingAndGlyphs">72</text>
<rect x="300.00" y="384.10" width="31.37" height="15.40" fill="#cc5050"/>
<text x="315.18" y="395.30" font-size="8.8" fill="#fff" font-weight="bold" text-anchor="middle" fill-opacity="0.9">10</text>
<rect x="330.37" y="384.10" width="31.37" height="15.40" fill="#d7b46e"/>
<text x="345.55" y="395.30" font-size="8.8" fill="#fff" font-weight="bold" text-anchor="middle" fill-opacity="0.9">5</text>
<rect x="360.73" y="384.10" width="30.37" height="15.40" fill="#64b964"/>
<text x="375.92" y="395.30" font-size="8.8" fill="#fff" font-weight="bold" text-anchor="middle" fill-opacity="0.9">1</text>
<text x="345.25" y="379.40" font-size="8.9" fill="#141414" font-weight="bold" text-anchor="middle" textLength="79.90" lengthAdjust="spacingAndGlyphs">Response Time Key</text>
<rect x="443.80" y="384.50" width="31.70" height="15.40" fill="#cc5050"/>
<text x="459.15" y="395.70" font-size="8.8" fill="#fff" font-weight="bold" text-anchor="middle" fill-opacity="0.9">20</text>
<rect x="474.50" y="384.50" width="31.70" height="15.40" fill="#d7b46e"/>
<text x="489.85" y="395.70" font-size="8.8" fill="#fff" font-weight="bold" text-anchor="middle" fill-opacity="0.9">15</text>
<rect x="505.20" y="384.50" width="30.70" height="15.40" fill="#64b964"/>
<text x="520.55" y="395.70" font-size="8.8" fill="#fff" font-weight="bold" text-anchor="middle" fill-opacity="0.9">5</text>
<text x="489.50" y="379.80" font-size="8.9" fill="#141414" font-weight="bold" text-anchor="middle" textLength="60.90" lengthAdjust="spacingAndGlyphs">Overshoot Key</text>
<rect x="584.00" y="383.80" width="31.57" height="15.10" fill="#cc5050"/>
<text x="599.28" y="395.00" font-size="8.8" fill="#fff" font-weight="bold" text-anchor="middle" fill-opacity="0.9">50</text>
<rect x="614.57" y="383.80" width="31.57" height="15.10" fill="#d7b46e"/>
<text x="629.85" y="395.00" font-size="8.8" fill="#fff" font-weight="bold" text-anchor="middle" fill-opacity="0.9">70</text>
<rect x="645.13" y="383.80" width="30.57" height="15.10" fill="#64b964"/>
<text x="660.42" y="395.00" font-size="8.8" fill="#fff" font-weight="bold" text-anchor="middle" fill-opacity="0.9">90</text>
<text x="629.50" y="379.10" font-size="8.9" fill="#141414" font-weight="bold" text-anchor="middle" textLength="86.00" lengthAdjust="spacingAndGlyphs">Response Rating Key</text>
<text x="751.70" y="370.90" font-size="23.7" fill="#2b2b2b" font-weight="bold" text-anchor="middle" textLength="37.33" lengthAdjust="spacingAndGlyphs">OD</text>
<text x="752.30" y="399.00" font-size="23.7" fill="#2b2b2b" font-weight="bold" text-anchor="middle" textLength="45.04" lengthAdjust="spacingAndGlyphs">LV3</text>
<g fill="none" stroke="#d8d8d8" stroke-width="0.7" opacity="0.9"><circle cx="806" cy="428" r="5.6"/><path d="M800.6 428h10.8M806 422.6v10.8M801.5 431h9"/></g>
</g>
</svg>
</body></html>
